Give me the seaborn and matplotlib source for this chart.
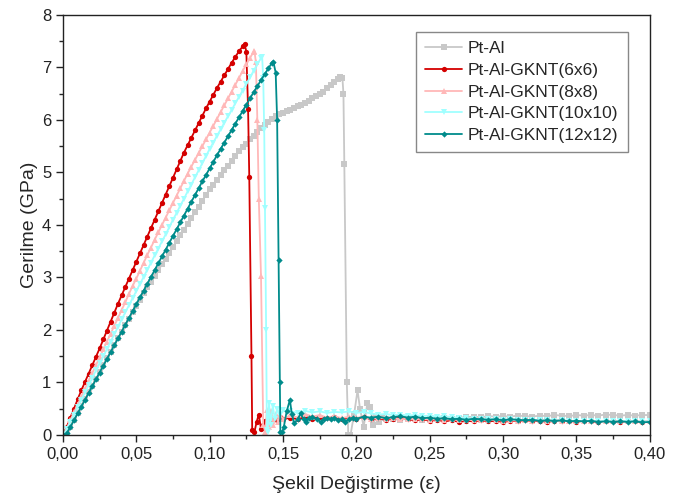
import seaborn as sns
import matplotlib
matplotlib.use("Agg")
import matplotlib.pyplot as plt
from matplotlib.ticker import AutoMinorLocator, FuncFormatter, MultipleLocator

# shared strain grids
rise_strain = [
    0.0000, 0.0025, 0.0050, 0.0075, 0.0100, 0.0125, 0.0150, 0.0175, 0.0200, 0.0225,
    0.0250, 0.0275, 0.0300, 0.0325, 0.0350, 0.0375, 0.0400, 0.0425, 0.0450, 0.0475,
    0.0500, 0.0525, 0.0550, 0.0575, 0.0600, 0.0625, 0.0650, 0.0675, 0.0700, 0.0725,
    0.0750, 0.0775, 0.0800, 0.0825, 0.0850, 0.0875, 0.0900, 0.0925, 0.0950, 0.0975,
    0.1000, 0.1025, 0.1050, 0.1075, 0.1100, 0.1125, 0.1150, 0.1175, 0.1200, 0.1225,
    0.1250, 0.1275, 0.1300, 0.1325, 0.1350, 0.1375, 0.1400, 0.1425, 0.1450, 0.1475,
    0.1500, 0.1525, 0.1550, 0.1575, 0.1600, 0.1625, 0.1650, 0.1675, 0.1700, 0.1725,
    0.1750, 0.1775, 0.1800, 0.1825, 0.1850, 0.1875,
]
tail_strain = [
    0.155, 0.160, 0.165, 0.170, 0.175, 0.180, 0.185, 0.190, 0.195, 0.200,
    0.205, 0.210, 0.215, 0.220, 0.225, 0.230, 0.235, 0.240, 0.245, 0.250,
    0.255, 0.260, 0.265, 0.270, 0.275, 0.280, 0.285, 0.290, 0.295, 0.300,
    0.305, 0.310, 0.315, 0.320, 0.325, 0.330, 0.335, 0.340, 0.345, 0.350,
    0.355, 0.360, 0.365, 0.370, 0.375, 0.380, 0.385, 0.390, 0.395, 0.400,
]

# Pt-Al
ptal_rise = [
    0.00, 0.04, 0.16, 0.29, 0.42, 0.55, 0.68, 0.81, 0.94, 1.07,
    1.20, 1.33, 1.46, 1.59, 1.71, 1.84, 1.96, 2.09, 2.21, 2.34,
    2.46, 2.58, 2.70, 2.81, 2.92, 3.03, 3.14, 3.25, 3.36, 3.47,
    3.58, 3.69, 3.80, 3.91, 4.02, 4.13, 4.24, 4.35, 4.46, 4.57,
    4.68, 4.77, 4.86, 4.95, 5.04, 5.13, 5.22, 5.31, 5.40, 5.48,
    5.55, 5.63, 5.70, 5.77, 5.84, 5.90, 5.96, 6.02, 6.07, 6.11,
    6.14, 6.17, 6.19, 6.22, 6.26, 6.29, 6.33, 6.37, 6.41, 6.45,
    6.49, 6.54, 6.60, 6.66, 6.72, 6.78,
]
ptal_drop_x = [0.1890, 0.1905, 0.1912, 0.1918, 0.1935, 0.1945, 0.1960, 0.1985, 0.2008,
               0.2025, 0.2050, 0.2075, 0.2095, 0.2115, 0.2135, 0.2155, 0.2175, 0.2200]
ptal_drop_y = [6.82, 6.80, 6.50, 5.16, 1.00, 0.00, 0.00, 0.40, 0.85,
               0.50, 0.16, 0.60, 0.54, 0.20, 0.35, 0.25, 0.32, 0.30]
ptal_tail = [
    0.30, 0.29, 0.31, 0.30, 0.29, 0.31, 0.30, 0.32, 0.31, 0.33,
    0.34, 0.35, 0.34, 0.36, 0.35, 0.36, 0.35, 0.37, 0.36, 0.35,
    0.37, 0.36, 0.38, 0.37, 0.36, 0.38, 0.37, 0.38, 0.37, 0.39,
    0.38, 0.37, 0.38, 0.37, 0.38, 0.38,
]

# Pt-Al-GKNT(6x6)
g6_rise = [
    0.00, 0.15, 0.33, 0.50, 0.68, 0.85, 1.01, 1.17, 1.33, 1.49,
    1.65, 1.82, 1.99, 2.16, 2.33, 2.50, 2.66, 2.82, 2.98, 3.14,
    3.30, 3.46, 3.62, 3.78, 3.94, 4.10, 4.26, 4.42, 4.58, 4.74,
    4.90, 5.06, 5.22, 5.38, 5.52, 5.66, 5.80, 5.94, 6.08, 6.22,
    6.35, 6.48, 6.61, 6.73, 6.85, 6.97, 7.09, 7.20, 7.31, 7.40,
]
g6_drop_x = [0.1238, 0.1250, 0.1262, 0.1270, 0.1285, 0.1290, 0.1305, 0.1320, 0.1335,
             0.1350, 0.1365, 0.1380, 0.1400, 0.1420, 0.1440, 0.1460, 0.1480, 0.1500]
g6_drop_y = [7.45, 7.30, 6.20, 4.92, 1.50, 0.10, 0.05, 0.25, 0.39,
             0.12, 0.19, 0.26, 0.30, 0.22, 0.33, 0.28, 0.34, 0.30]
g6_tail = [
    0.33, 0.30, 0.34, 0.31, 0.35, 0.32, 0.34, 0.30, 0.33, 0.31,
    0.34, 0.30, 0.32, 0.29, 0.31, 0.33, 0.30, 0.28, 0.30, 0.27,
    0.29, 0.26, 0.28, 0.25, 0.27, 0.26, 0.28, 0.26, 0.27, 0.25,
    0.27, 0.26, 0.28, 0.26, 0.27, 0.25, 0.27, 0.26, 0.27, 0.25,
    0.27, 0.26, 0.25, 0.27, 0.26, 0.25, 0.27, 0.26, 0.25, 0.26,
]

# Pt-Al-GKNT(8x8)
g8_rise = [
    0.00, 0.12, 0.28, 0.43, 0.58, 0.73, 0.88, 1.03, 1.18, 1.33,
    1.48, 1.63, 1.78, 1.93, 2.08, 2.23, 2.38, 2.53, 2.69, 2.84,
    2.98, 3.13, 3.28, 3.43, 3.57, 3.72, 3.86, 4.00, 4.14, 4.28,
    4.42, 4.56, 4.70, 4.84, 4.98, 5.11, 5.24, 5.37, 5.50, 5.63,
    5.76, 5.89, 6.02, 6.15, 6.28, 6.41, 6.54, 6.67, 6.80, 6.93,
    7.06, 7.18, 7.30,
]
g8_drop_x = [0.1305, 0.1315, 0.1325, 0.1335, 0.1350, 0.1365, 0.1380, 0.1390, 0.1405,
             0.1420, 0.1435, 0.1450, 0.1465, 0.1480, 0.1500]
g8_drop_y = [7.32, 7.10, 6.00, 4.50, 3.02, 0.20, 0.05, 0.48, 0.15,
             0.45, 0.20, 0.40, 0.25, 0.38, 0.30]
g8_tail = [
    0.38, 0.33, 0.40, 0.35, 0.38, 0.33, 0.36, 0.32, 0.35, 0.33,
    0.34, 0.31, 0.33, 0.31, 0.32, 0.30, 0.31, 0.30, 0.31, 0.29,
    0.30, 0.29, 0.30, 0.28, 0.29, 0.28, 0.29, 0.28, 0.29, 0.27,
    0.28, 0.27, 0.28, 0.27, 0.28, 0.27, 0.28, 0.27, 0.27, 0.26,
    0.27, 0.26, 0.27, 0.26, 0.27, 0.26, 0.27, 0.26, 0.26, 0.26,
]

# Pt-Al-GKNT(10x10)
g10_rise = [
    0.00, 0.11, 0.25, 0.39, 0.53, 0.67, 0.81, 0.95, 1.09, 1.23,
    1.37, 1.50, 1.64, 1.78, 1.92, 2.06, 2.20, 2.34, 2.47, 2.61,
    2.74, 2.88, 3.01, 3.15, 3.28, 3.42, 3.55, 3.69, 3.82, 3.96,
    4.10, 4.23, 4.37, 4.50, 4.64, 4.77, 4.91, 5.04, 5.18, 5.31,
    5.45, 5.57, 5.70, 5.82, 5.95, 6.07, 6.19, 6.32, 6.44, 6.56,
    6.69, 6.81, 6.94, 7.06, 7.18,
]
g10_drop_x = [0.1358, 0.1365, 0.1372, 0.1377, 0.1385, 0.1390, 0.1395, 0.1405, 0.1415,
              0.1430, 0.1445, 0.1460, 0.1480, 0.1500]
g10_drop_y = [7.19, 6.80, 5.80, 4.32, 2.00, 0.10, 0.05, 0.60, 0.20,
              0.55, 0.30, 0.50, 0.38, 0.47]
g10_tail = [
    0.45, 0.42, 0.46, 0.43, 0.45, 0.42, 0.44, 0.43, 0.45, 0.42,
    0.44, 0.41, 0.39, 0.40, 0.38, 0.39, 0.37, 0.38, 0.36, 0.37,
    0.35, 0.36, 0.34, 0.33, 0.32, 0.31, 0.30, 0.31, 0.30, 0.29,
    0.30, 0.29, 0.28, 0.29, 0.28, 0.28, 0.27, 0.28, 0.27, 0.27,
    0.26, 0.27, 0.26, 0.27, 0.26, 0.26, 0.27, 0.26, 0.26, 0.26,
]

# Pt-Al-GKNT(12x12)
g12_rise = [
    0.00, 0.03, 0.15, 0.28, 0.41, 0.54, 0.67, 0.80, 0.93, 1.06,
    1.19, 1.32, 1.45, 1.58, 1.71, 1.84, 1.97, 2.10, 2.23, 2.36,
    2.49, 2.62, 2.75, 2.88, 3.01, 3.14, 3.27, 3.40, 3.53, 3.66,
    3.79, 3.92, 4.05, 4.18, 4.31, 4.44, 4.57, 4.70, 4.83, 4.95,
    5.08, 5.20, 5.33, 5.45, 5.57, 5.69, 5.81, 5.93, 6.05, 6.17,
    6.29, 6.41, 6.53, 6.64, 6.76, 6.87, 6.98, 7.09,
]
g12_drop_x = [0.1435, 0.1450, 0.1460, 0.1470, 0.1478, 0.1482, 0.1495, 0.1506, 0.1525,
              0.1547, 0.1560, 0.1575, 0.1600, 0.1620, 0.1640, 0.1655, 0.1680, 0.1700,
              0.1730, 0.1757, 0.1780, 0.1800, 0.1825, 0.1850, 0.1875, 0.1900, 0.1925,
              0.1950, 0.1975, 0.2000]
g12_drop_y = [7.10, 6.90, 6.00, 3.33, 1.00, 0.05, 0.05, 0.16, 0.45,
              0.67, 0.40, 0.22, 0.30, 0.41, 0.30, 0.25, 0.32, 0.35,
              0.30, 0.25, 0.30, 0.33, 0.30, 0.32, 0.28, 0.30, 0.25,
              0.30, 0.33, 0.31]
g12_tail = [
    0.35, 0.33, 0.35, 0.32, 0.34, 0.36, 0.33, 0.35, 0.32, 0.33,
    0.31, 0.32, 0.30, 0.31, 0.29, 0.31, 0.30, 0.29, 0.30, 0.28,
    0.30, 0.29, 0.28, 0.29, 0.27, 0.28, 0.27, 0.28, 0.26, 0.27,
    0.26, 0.27, 0.25, 0.26, 0.25, 0.26, 0.25, 0.26, 0.24, 0.25,
]

series = [
    ("Pt-Al", ptal_rise, ptal_drop_x, ptal_drop_y, ptal_tail, "#C8C8C8", "s"),
    ("Pt-Al-GKNT(6x6)", g6_rise, g6_drop_x, g6_drop_y, g6_tail, "#D40000", "o"),
    ("Pt-Al-GKNT(8x8)", g8_rise, g8_drop_x, g8_drop_y, g8_tail, "#FFB8B8", "^"),
    ("Pt-Al-GKNT(10x10)", g10_rise, g10_drop_x, g10_drop_y, g10_tail, "#A0FFFF", "v"),
    ("Pt-Al-GKNT(12x12)", g12_rise, g12_drop_x, g12_drop_y, g12_tail, "#008B8B", "D"),
]

sns.set_style("ticks")
plt.rcParams["font.family"] = ["Liberation Sans", "DejaVu Sans"]

fig = plt.figure(figsize=(6.89, 4.98), dpi=100)
ax = fig.add_axes([0.0914, 0.1265, 0.8516, 0.8435])

for name, rise, dx, dy, tail, color, mk in series:
    x = rise_strain[:len(rise)] + dx + tail_strain[-len(tail):]
    y = rise + dy + tail
    ms = 3.2 if mk == "D" else 3.8
    sns.lineplot(x=x, y=y, ax=ax, color=color, marker=mk, markersize=ms,
                 markeredgewidth=0, linewidth=1.3, sort=False, estimator=None,
                 label=name)

ax.set_xlim(0, 0.40)
ax.set_ylim(0, 8)
ax.xaxis.set_major_locator(MultipleLocator(0.05))
ax.xaxis.set_minor_locator(AutoMinorLocator(2))
ax.yaxis.set_major_locator(MultipleLocator(1))
ax.yaxis.set_minor_locator(AutoMinorLocator(2))
ax.xaxis.set_major_formatter(FuncFormatter(lambda v, p: f"{v:.2f}".replace(".", ",")))
ax.yaxis.set_major_formatter(FuncFormatter(lambda v, p: f"{v:.0f}"))
ax.tick_params(which="major", direction="out", length=5, width=1, labelsize=12,
               colors="#222222", top=False, right=False)
ax.tick_params(which="minor", direction="out", length=3, width=1, top=False, right=False)
for sp in ax.spines.values():
    sp.set_visible(True)
    sp.set_linewidth(1)
    sp.set_color("#222222")

ax.set_xlabel("Şekil Değiştirme (ε)", fontsize=14, labelpad=10)
ax.set_ylabel("Gerilme (GPa)", fontsize=14, labelpad=3)

leg = ax.legend(loc="upper right", bbox_to_anchor=(0.9625, 0.96), fontsize=12.5,
                frameon=True, fancybox=False, edgecolor="#888888", framealpha=1,
                handlelength=2.15, handletextpad=0.3, labelspacing=0.37,
                borderpad=0.55, borderaxespad=0)
leg.get_frame().set_linewidth(1)

fig.savefig("out.png", dpi=100)
